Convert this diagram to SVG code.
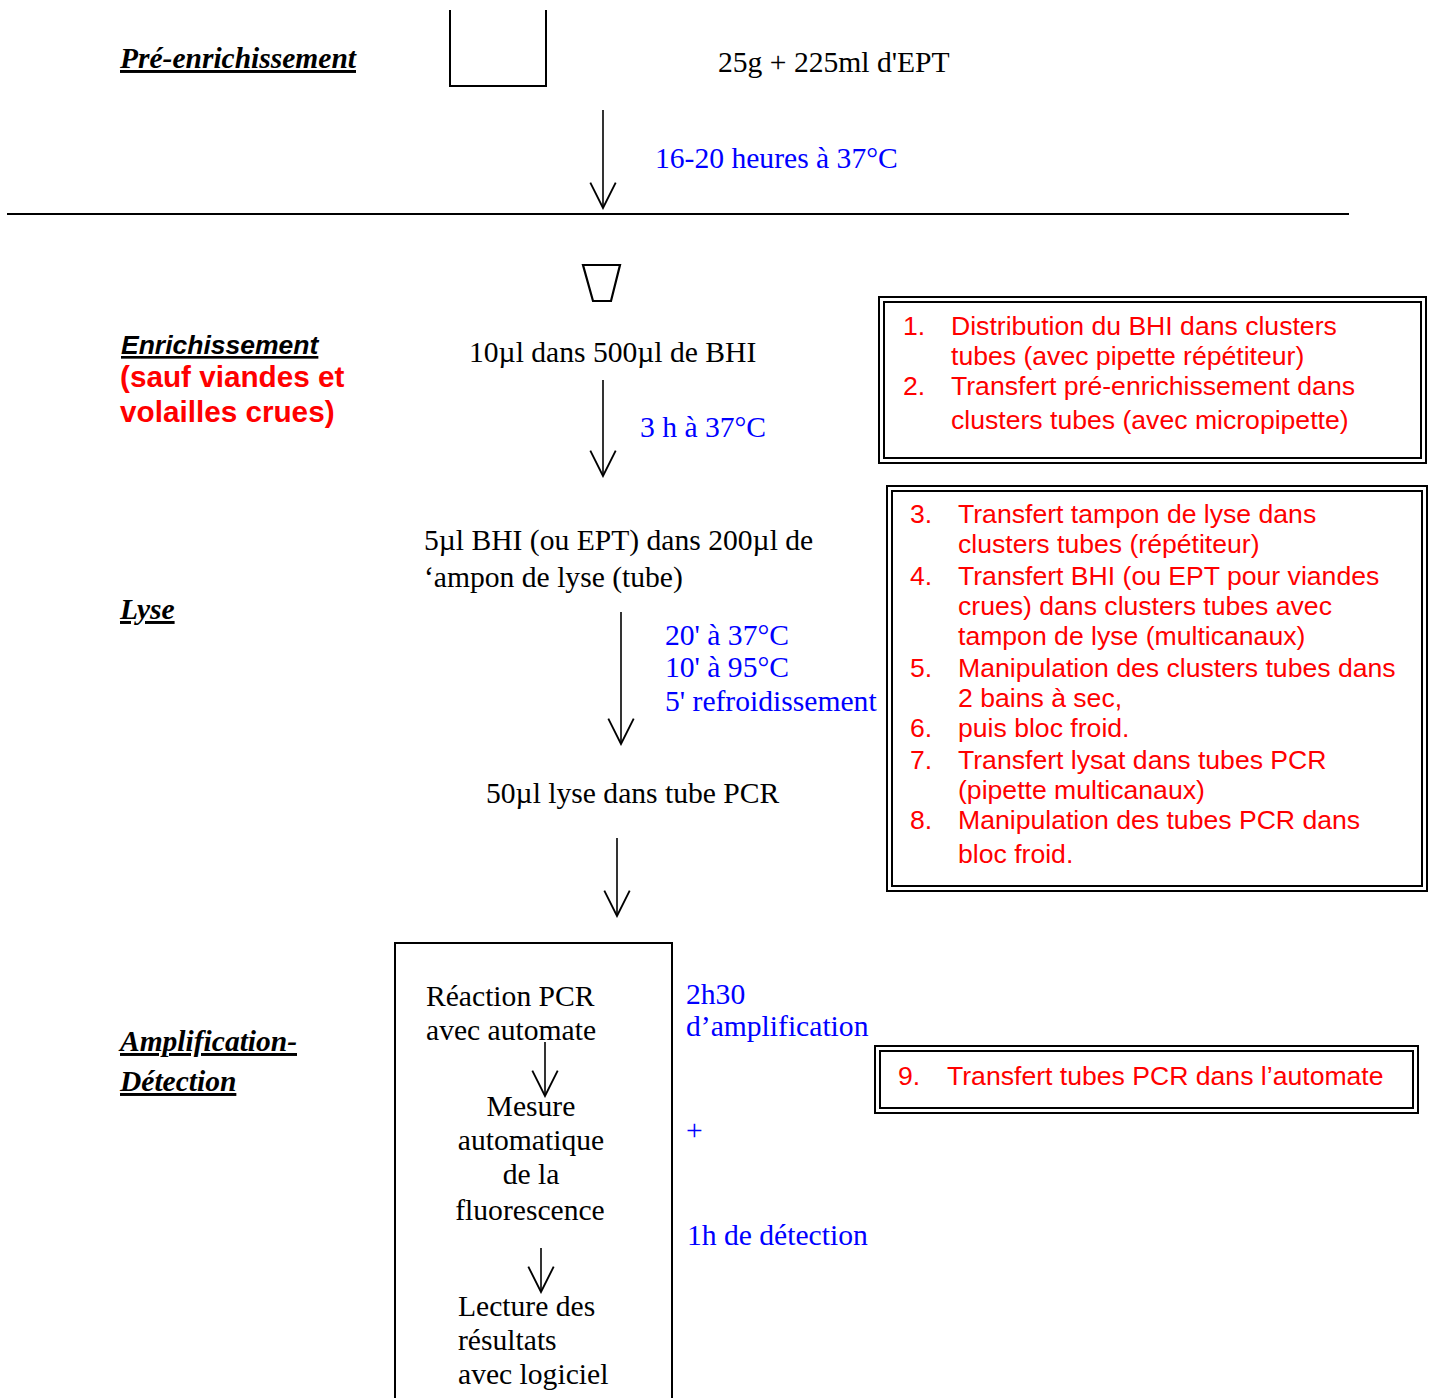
<svg xmlns="http://www.w3.org/2000/svg" width="1437" height="1398" viewBox="0 0 1437 1398">
<style>
.serif{font-family:"Liberation Serif","Times New Roman",serif;font-size:29.6px;fill:#000}
.blue{font-family:"Liberation Serif","Times New Roman",serif;font-size:29.6px;fill:#0000ff}
.head{font-family:"Liberation Serif","Times New Roman",serif;font-size:29.5px;font-weight:bold;font-style:italic;fill:#000;text-decoration:underline}
.red{font-family:"Liberation Sans",Arial,sans-serif;font-size:26.6px;fill:#ff0000}
.redb{font-family:"Liberation Sans",Arial,sans-serif;font-size:29.7px;font-weight:bold;fill:#ff0000}
.enr{font-family:"Liberation Sans",Arial,sans-serif;font-size:26.5px;font-weight:bold;font-style:italic;fill:#000;text-decoration:underline}
.ln{stroke:#000;stroke-width:1.6;fill:none}
.box{stroke:#000;stroke-width:2;fill:none}
</style>
<defs>
<marker id="v" markerUnits="userSpaceOnUse" markerWidth="30" markerHeight="30" viewBox="-24 -13 26 26" refX="0" refY="0" orient="auto">
<path d="M-22,-11 L0,0 L-22,11" fill="none" stroke="#000" stroke-width="1.6"/>
</marker>
</defs>
<rect width="1437" height="1398" fill="#fff"/>

<g id="labels">
<text class="head" x="120" y="68">Pré-enrichissement</text>
<text class="enr" x="121" y="354">Enrichissement</text>
<text class="redb" x="120" y="387">(sauf viandes et</text>
<text class="redb" x="120" y="422">volailles crues)</text>
<text class="head" x="120" y="619">Lyse</text>
<text class="head" x="120" y="1051">Amplification-</text>
<text class="head" x="120" y="1091">Détection</text>
</g>

<g id="beaker">
<path class="box" d="M450,10 V86 H546 V10"/>
</g>
<g id="node-pre">
<text class="serif" x="718" y="72">25g + 225ml d'EPT</text>
</g>
<g id="label-1620">
<text class="blue" x="655" y="168">16-20 heures à 37°C</text>
</g>
<g id="separator">
<line x1="7" y1="214" x2="1349" y2="214" stroke="#000" stroke-width="2"/>
</g>
<g id="cup">
<path d="M583,265 H620 L611,301 H593 Z" fill="none" stroke="#000" stroke-width="2.2"/>
</g>
<g id="node-enr">
<text class="serif" x="469" y="362">10µl dans 500µl de BHI</text>
</g>
<g id="label-3h">
<text class="blue" x="640" y="437">3 h à 37°C</text>
</g>
<g id="node-lyse">
<text class="serif" x="424" y="550">5µl BHI (ou EPT) dans 200µl de</text>
<text class="serif" x="424" y="587">ʻampon de lyse (tube)</text>
</g>
<g id="label-lyse">
<text class="blue" x="665" y="645">20' à 37°C</text>
<text class="blue" x="665" y="677">10' à 95°C</text>
<text class="blue" x="665" y="711">5' refroidissement</text>
</g>
<g id="node-pcr">
<text class="serif" x="486" y="803">50µl lyse dans tube PCR</text>
</g>

<g id="box1">
<rect class="box" x="879" y="297" width="547" height="166"/>
<rect class="box" x="884" y="302" width="537" height="156"/>
<text class="red" x="903" y="335">1.</text><text class="red" x="951" y="335">Distribution du BHI dans clusters</text>
<text class="red" x="951" y="365">tubes (avec pipette répétiteur)</text>
<text class="red" x="903" y="395">2.</text><text class="red" x="951" y="395">Transfert pré-enrichissement dans</text>
<text class="red" x="951" y="429">clusters tubes (avec micropipette)</text>
</g>

<g id="box2">
<rect class="box" x="887" y="486" width="540" height="405"/>
<rect class="box" x="892" y="491" width="530" height="395"/>
<text class="red" x="910" y="523">3.</text><text class="red" x="958" y="523">Transfert tampon de lyse dans</text>
<text class="red" x="958" y="553">clusters tubes (répétiteur)</text>
<text class="red" x="910" y="585">4.</text><text class="red" x="958" y="585">Transfert BHI (ou EPT pour viandes</text>
<text class="red" x="958" y="615">crues) dans clusters tubes avec</text>
<text class="red" x="958" y="645">tampon de lyse (multicanaux)</text>
<text class="red" x="910" y="677">5.</text><text class="red" x="958" y="677">Manipulation des clusters tubes dans</text>
<text class="red" x="958" y="707">2 bains à sec,</text>
<text class="red" x="910" y="737">6.</text><text class="red" x="958" y="737">puis bloc froid.</text>
<text class="red" x="910" y="769">7.</text><text class="red" x="958" y="769">Transfert lysat dans tubes PCR</text>
<text class="red" x="958" y="799">(pipette multicanaux)</text>
<text class="red" x="910" y="829">8.</text><text class="red" x="958" y="829">Manipulation des tubes PCR dans</text>
<text class="red" x="958" y="863">bloc froid.</text>
</g>

<g id="box-amp">
<rect class="box" x="395" y="943" width="277" height="470"/>
<text class="serif" x="426" y="1006">Réaction PCR</text>
<text class="serif" x="426" y="1040">avec automate</text>
<text class="serif" x="531" y="1116" text-anchor="middle">Mesure</text>
<text class="serif" x="531" y="1150" text-anchor="middle">automatique</text>
<text class="serif" x="531" y="1184" text-anchor="middle">de la</text>
<text class="serif" x="530" y="1220" text-anchor="middle">fluorescence</text>
<text class="serif" x="458" y="1316">Lecture des</text>
<text class="serif" x="458" y="1350">résultats</text>
<text class="serif" x="458" y="1384">avec logiciel</text>
</g>

<g id="label-amp">
<text class="blue" x="686" y="1004">2h30</text>
<text class="blue" x="686" y="1036">d’amplification</text>
<text class="blue" x="686" y="1140">+</text>
<text class="blue" x="687" y="1245">1h de détection</text>
</g>

<g id="box3">
<rect class="box" x="875" y="1046" width="543" height="67"/>
<rect class="box" x="880" y="1051" width="533" height="57"/>
<text class="red" x="898" y="1085">9.</text><text class="red" x="947" y="1085">Transfert tubes PCR dans l’automate</text>
</g>

<g id="connectors">
<line class="ln" x1="603" y1="110" x2="603" y2="208" marker-end="url(#v)"/>
<line class="ln" x1="603" y1="380" x2="603" y2="476" marker-end="url(#v)"/>
<line class="ln" x1="621" y1="612" x2="621" y2="744" marker-end="url(#v)"/>
<line class="ln" x1="617" y1="838" x2="617" y2="916" marker-end="url(#v)"/>
<line class="ln" x1="545" y1="1042" x2="545" y2="1096" marker-end="url(#v)"/>
<line class="ln" x1="541" y1="1248" x2="541" y2="1292" marker-end="url(#v)"/>
</g>
</svg>
